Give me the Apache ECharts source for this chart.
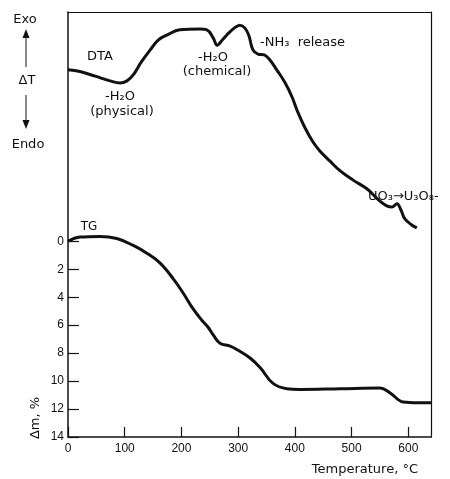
<!DOCTYPE html>
<html>
<head>
<meta charset="utf-8">
<script src="https://cdn.jsdelivr.net/npm/echarts@6/dist/echarts.min.js"></script>
<style>
  html, body { margin: 0; padding: 0; background: #fff; }
  #chart { width: 450px; height: 479px; }
</style>
</head>
<body>
<div id="chart"></div>
<script>
// DTA trace: temperature (°C) and ΔT in arbitrary units (0-100, higher = exo)
var dtaTemp = [0, 21, 48, 74, 92, 104, 115, 129, 145, 159, 175, 197, 233, 245, 256, 263, 272, 280, 293, 303, 312, 319, 326, 335, 346, 356, 368, 383, 395, 405, 418, 432, 444, 462, 480, 502, 527, 550, 562, 571, 580, 587, 594, 606, 615];
var dtaVal = [86.4, 86.0, 84.9, 83.8, 83.3, 83.8, 85.2, 88.2, 91.1, 93.4, 94.6, 95.8, 96.0, 95.8, 93.9, 92.2, 93.4, 94.6, 96.2, 96.9, 96.2, 94.4, 91.1, 90.1, 89.9, 88.7, 86.4, 83.3, 80.0, 76.5, 72.7, 69.4, 67.3, 64.9, 62.6, 60.5, 58.4, 55.5, 54.4, 54.1, 54.9, 53.4, 51.3, 49.9, 49.2];

// TG trace: temperature (°C) and mass loss Δm (%)
var tgTemp = [0, 21, 56, 86, 115, 139, 162, 185, 203, 220, 236, 247, 256, 268, 286, 300, 321, 339, 361, 386, 409, 480, 550, 568, 591, 617, 640];
var tgVal = [0.0, -0.3, -0.35, -0.2, 0.3, 0.85, 1.55, 2.65, 3.7, 4.8, 5.65, 6.15, 6.7, 7.3, 7.5, 7.8, 8.35, 9.05, 10.15, 10.55, 10.6, 10.55, 10.5, 10.85, 11.5, 11.55, 11.55];

var massTicks = [0, 2, 4, 6, 8, 10, 12, 14];

function pairs(xs, ys) {
    return xs.map(function(x, i) {
        return [x, ys[i]];
    });
}

var ink = '#111';
var textFont = '13px "DejaVu Sans"';

var myChart = echarts.init(document.getElementById('chart'));
myChart.setOption({
    animation: false,
    grid: {left: 68, top: 12, width: 363, height: 425},
    xAxis: [{
        type: 'value',
        min: 0,
        max: 640,
        interval: 100,
        position: 'bottom',
        axisLine: {onZero: false, lineStyle: {color: ink, width: 1.5}},
        axisTick: {inside: true, length: 10, lineStyle: {color: ink, width: 1.2}},
        axisLabel: {color: ink, fontSize: 12, fontFamily: 'Liberation Sans', margin: 6, showMaxLabel: false},
        splitLine: {show: false},
        name: 'Temperature, °C',
        nameLocation: 'end',
        nameGap: -13,
        nameTextStyle: {
            color: ink, fontSize: 13, fontFamily: 'DejaVu Sans',
            align: 'right', verticalAlign: 'top', padding: [26, 0, 0, 0]
        }
    }, {
        type: 'value',
        min: 0,
        max: 640,
        position: 'top',
        axisLine: {onZero: false, lineStyle: {color: ink, width: 1.2}},
        axisTick: {show: false},
        axisLabel: {show: false},
        splitLine: {show: false}
    }],
    yAxis: [{
        type: 'value',
        inverse: true,
        min: -16.4,
        max: 14,
        position: 'left',
        axisLine: {onZero: false, lineStyle: {color: ink, width: 1.5}},
        axisTick: {inside: true, length: 11, customValues: massTicks, lineStyle: {color: ink, width: 1.2}},
        axisLabel: {color: ink, fontSize: 12, fontFamily: 'Liberation Sans', margin: 4, customValues: massTicks},
        splitLine: {show: false}
    }, {
        type: 'value',
        min: 0,
        max: 100,
        position: 'right',
        axisLine: {show: true, onZero: false, lineStyle: {color: ink, width: 1.2}},
        axisTick: {show: false},
        axisLabel: {show: false},
        splitLine: {show: false}
    }],
    series: [{
        name: 'DTA',
        type: 'line',
        yAxisIndex: 1,
        smooth: 0.4,
        showSymbol: false,
        lineStyle: {color: ink, width: 3},
        data: pairs(dtaTemp, dtaVal)
    }, {
        name: 'TG',
        type: 'line',
        yAxisIndex: 0,
        smooth: 0.4,
        showSymbol: false,
        lineStyle: {color: ink, width: 3},
        data: pairs(tgTemp, tgVal)
    }],
    graphic: [
        {type: 'text', style: {x: 25, y: 20, text: 'Exo', font: textFont, fill: ink, align: 'center', verticalAlign: 'middle'}},
        {type: 'line', shape: {x1: 26, y1: 36, x2: 26, y2: 67}, style: {stroke: ink, lineWidth: 1}},
        {type: 'polygon', shape: {points: [[26, 29], [22.5, 38], [29.5, 38]]}, style: {fill: ink}},
        {type: 'text', style: {x: 27, y: 81, text: 'ΔT', font: textFont, fill: ink, align: 'center', verticalAlign: 'middle'}},
        {type: 'line', shape: {x1: 26, y1: 95, x2: 26, y2: 121}, style: {stroke: ink, lineWidth: 1}},
        {type: 'polygon', shape: {points: [[26, 129], [22.5, 120], [29.5, 120]]}, style: {fill: ink}},
        {type: 'text', style: {x: 28, y: 145, text: 'Endo', font: textFont, fill: ink, align: 'center', verticalAlign: 'middle'}},
        {type: 'text', style: {x: 100, y: 57, text: 'DTA', font: textFont, fill: ink, align: 'center', verticalAlign: 'middle'}},
        {type: 'text', style: {x: 120, y: 97, text: '-H₂O', font: textFont, fill: ink, align: 'center', verticalAlign: 'middle'}},
        {type: 'text', style: {x: 122, y: 112, text: '(physical)', font: textFont, fill: ink, align: 'center', verticalAlign: 'middle'}},
        {type: 'text', style: {x: 213, y: 58, text: '-H₂O', font: textFont, fill: ink, align: 'center', verticalAlign: 'middle'}},
        {type: 'text', style: {x: 217, y: 72, text: '(chemical)', font: textFont, fill: ink, align: 'center', verticalAlign: 'middle'}},
        {type: 'text', style: {x: 260, y: 43, text: '-NH₃  release', font: textFont, fill: ink, align: 'left', verticalAlign: 'middle'}},
        {type: 'text', style: {x: 368, y: 197, text: 'UO₃→U₃O₈-', font: textFont, fill: ink, align: 'left', verticalAlign: 'middle'}},
        {type: 'text', style: {x: 89, y: 227, text: 'TG', font: '12px "DejaVu Sans"', fill: ink, align: 'center', verticalAlign: 'middle'}},
        {type: 'text', rotation: Math.PI / 2, x: 36, y: 418, style: {x: 0, y: 0, text: 'Δm, %', font: textFont, fill: ink, align: 'center', verticalAlign: 'middle'}}
    ]
});
</script>
</body>
</html>
